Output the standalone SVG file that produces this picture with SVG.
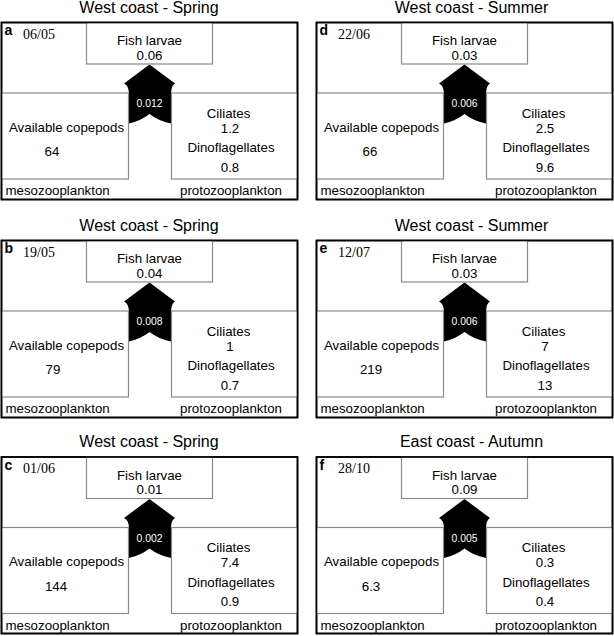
<svg xmlns="http://www.w3.org/2000/svg" xmlns:xlink="http://www.w3.org/1999/xlink" width="614" height="636" viewBox="0 0 614 636">
<style>
  text { font-family: "Liberation Sans", Arial, sans-serif; fill: #000; }
  .title { font-size: 16px; text-anchor: middle; }
  .letter { font-size: 14px; font-weight: bold; }
  .date { font-family: "Liberation Serif", "Times New Roman", serif; font-size: 14px; }
  .lbl { font-size: 13.3px; }
  .mid { text-anchor: middle; }
  .flow { font-size: 10.4px; fill: #fff; text-anchor: middle; }
  .frame { fill: none; stroke: #000; stroke-width: 1.6; }
  .box { fill: #fff; stroke: #8a8a8a; stroke-width: 1.2; }
  .arrow { fill: #000; stroke: none; }
</style>
<defs>
  <path id="flow-arrow" class="arrow" d="M148,42 L173.5,61 Q169.5,63 169.5,72 L169.5,101 Q157,98.5 148,91.5 Q139,98.5 127.5,101 L127.5,72 Q127.5,63 122.5,61 Z"/>
</defs>

<!-- Panel frames, titles and panel labels -->
<g id="panel-a" transform="translate(1.5,22.5)">
  <text class="title" x="147.5" y="-10">West coast - Spring</text>
  <rect class="frame" x="0" y="0" width="296" height="177"/>
  <text class="letter" x="3" y="12.5">a</text>
  <text class="date" x="21.5" y="16">06/05</text>
  <text class="lbl" x="4" y="172.5">mesozooplankton</text>
  <text class="lbl mid" x="229.5" y="172.5">protozooplankton</text>
</g>
<g id="panel-b" transform="translate(1.5,240.5)">
  <text class="title" x="147.5" y="-10">West coast - Spring</text>
  <rect class="frame" x="0" y="0" width="296" height="177"/>
  <text class="letter" x="3" y="12.5">b</text>
  <text class="date" x="21.5" y="16">19/05</text>
  <text class="lbl" x="4" y="172.5">mesozooplankton</text>
  <text class="lbl mid" x="229.5" y="172.5">protozooplankton</text>
</g>
<g id="panel-c" transform="translate(1.5,457)">
  <text class="title" x="147.5" y="-10">West coast - Spring</text>
  <rect class="frame" x="0" y="0" width="296" height="176.5"/>
  <text class="letter" x="3" y="12.5">c</text>
  <text class="date" x="21.5" y="16">01/06</text>
  <text class="lbl" x="4" y="172.5">mesozooplankton</text>
  <text class="lbl mid" x="229.5" y="172.5">protozooplankton</text>
</g>
<g id="panel-d" transform="translate(316.5,22.5)">
  <text class="title" x="155" y="-10">West coast - Summer</text>
  <rect class="frame" x="0" y="0" width="296" height="177"/>
  <text class="letter" x="3" y="12.5">d</text>
  <text class="date" x="21.5" y="16">22/06</text>
  <text class="lbl" x="4" y="172.5">mesozooplankton</text>
  <text class="lbl mid" x="229.5" y="172.5">protozooplankton</text>
</g>
<g id="panel-e" transform="translate(316.5,240.5)">
  <text class="title" x="155" y="-10">West coast - Summer</text>
  <rect class="frame" x="0" y="0" width="296" height="177"/>
  <text class="letter" x="3" y="12.5">e</text>
  <text class="date" x="21.5" y="16">12/07</text>
  <text class="lbl" x="4" y="172.5">mesozooplankton</text>
  <text class="lbl mid" x="229.5" y="172.5">protozooplankton</text>
</g>
<g id="panel-f" transform="translate(316.5,457)">
  <text class="title" x="155" y="-10">East coast - Autumn</text>
  <rect class="frame" x="0" y="0" width="296" height="176.5"/>
  <text class="letter" x="3" y="12.5">f</text>
  <text class="date" x="21.5" y="16">28/10</text>
  <text class="lbl" x="4" y="172.5">mesozooplankton</text>
  <text class="lbl mid" x="229.5" y="172.5">protozooplankton</text>
</g>

<!-- Connectors: flow arrows -->
<g id="connectors">
  <g id="flow-a" transform="translate(1.5,22.5)"><use xlink:href="#flow-arrow" href="#flow-arrow"/><text class="flow" x="148" y="84.5">0.012</text></g>
  <g id="flow-b" transform="translate(1.5,240.5)"><use xlink:href="#flow-arrow" href="#flow-arrow"/><text class="flow" x="148" y="84.5">0.008</text></g>
  <g id="flow-c" transform="translate(1.5,457)"><use xlink:href="#flow-arrow" href="#flow-arrow"/><text class="flow" x="148" y="84.5">0.002</text></g>
  <g id="flow-d" transform="translate(316.5,22.5)"><use xlink:href="#flow-arrow" href="#flow-arrow"/><text class="flow" x="148" y="84.5">0.006</text></g>
  <g id="flow-e" transform="translate(316.5,240.5)"><use xlink:href="#flow-arrow" href="#flow-arrow"/><text class="flow" x="148" y="84.5">0.006</text></g>
  <g id="flow-f" transform="translate(316.5,457)"><use xlink:href="#flow-arrow" href="#flow-arrow"/><text class="flow" x="148" y="84.5">0.005</text></g>
</g>

<!-- Nodes -->
<g transform="translate(1.5,22.5)">
  <g id="a-fish"><rect class="box" x="85" y="0" width="126" height="41.5"/><text class="lbl mid" x="148" y="22.5">Fish larvae</text><text class="lbl mid" x="148" y="37">0.06</text></g>
  <g id="a-copepods"><rect class="box" x="0" y="70.5" width="127" height="86"/><text class="lbl mid" x="65" y="109">Available copepods</text><text class="lbl mid" x="50.5" y="133.5">64</text></g>
  <g id="a-protozoo"><rect class="box" x="170" y="70.5" width="126" height="86"/><text class="lbl mid" x="227" y="95">Ciliates</text><text class="lbl mid" x="228.5" y="110">1.2</text><text class="lbl mid" x="229.5" y="129.5">Dinoflagellates</text><text class="lbl mid" x="228.5" y="149">0.8</text></g>
</g>
<g transform="translate(1.5,240.5)">
  <g id="b-fish"><rect class="box" x="85" y="0" width="126" height="41.5"/><text class="lbl mid" x="148" y="22.5">Fish larvae</text><text class="lbl mid" x="148" y="37">0.04</text></g>
  <g id="b-copepods"><rect class="box" x="0" y="70.5" width="127" height="86"/><text class="lbl mid" x="65" y="109">Available copepods</text><text class="lbl mid" x="51.5" y="133.5">79</text></g>
  <g id="b-protozoo"><rect class="box" x="170" y="70.5" width="126" height="86"/><text class="lbl mid" x="227" y="95">Ciliates</text><text class="lbl mid" x="228.5" y="110">1</text><text class="lbl mid" x="229.5" y="129.5">Dinoflagellates</text><text class="lbl mid" x="228.5" y="149">0.7</text></g>
</g>
<g transform="translate(1.5,457)">
  <g id="c-fish"><rect class="box" x="85" y="0" width="126" height="41.5"/><text class="lbl mid" x="148" y="22.5">Fish larvae</text><text class="lbl mid" x="148" y="37">0.01</text></g>
  <g id="c-copepods"><rect class="box" x="0" y="70.5" width="127" height="86"/><text class="lbl mid" x="65" y="109">Available copepods</text><text class="lbl mid" x="54.5" y="133.5">144</text></g>
  <g id="c-protozoo"><rect class="box" x="170" y="70.5" width="126" height="86"/><text class="lbl mid" x="227" y="95">Ciliates</text><text class="lbl mid" x="228.5" y="110">7.4</text><text class="lbl mid" x="229.5" y="129.5">Dinoflagellates</text><text class="lbl mid" x="228.5" y="149">0.9</text></g>
</g>
<g transform="translate(316.5,22.5)">
  <g id="d-fish"><rect class="box" x="85" y="0" width="126" height="41.5"/><text class="lbl mid" x="148" y="22.5">Fish larvae</text><text class="lbl mid" x="148" y="37">0.03</text></g>
  <g id="d-copepods"><rect class="box" x="0" y="70.5" width="127" height="86"/><text class="lbl mid" x="65" y="109">Available copepods</text><text class="lbl mid" x="53.5" y="133.5">66</text></g>
  <g id="d-protozoo"><rect class="box" x="170" y="70.5" width="126" height="86"/><text class="lbl mid" x="227" y="95">Ciliates</text><text class="lbl mid" x="228.5" y="110">2.5</text><text class="lbl mid" x="229.5" y="129.5">Dinoflagellates</text><text class="lbl mid" x="228.5" y="149">9.6</text></g>
</g>
<g transform="translate(316.5,240.5)">
  <g id="e-fish"><rect class="box" x="85" y="0" width="126" height="41.5"/><text class="lbl mid" x="148" y="22.5">Fish larvae</text><text class="lbl mid" x="148" y="37">0.03</text></g>
  <g id="e-copepods"><rect class="box" x="0" y="70.5" width="127" height="86"/><text class="lbl mid" x="65" y="109">Available copepods</text><text class="lbl mid" x="54.5" y="133.5">219</text></g>
  <g id="e-protozoo"><rect class="box" x="170" y="70.5" width="126" height="86"/><text class="lbl mid" x="227" y="95">Ciliates</text><text class="lbl mid" x="228.5" y="110">7</text><text class="lbl mid" x="229.5" y="129.5">Dinoflagellates</text><text class="lbl mid" x="228.5" y="149">13</text></g>
</g>
<g transform="translate(316.5,457)">
  <g id="f-fish"><rect class="box" x="85" y="0" width="126" height="41.5"/><text class="lbl mid" x="148" y="22.5">Fish larvae</text><text class="lbl mid" x="148" y="37">0.09</text></g>
  <g id="f-copepods"><rect class="box" x="0" y="70.5" width="127" height="86"/><text class="lbl mid" x="65" y="109">Available copepods</text><text class="lbl mid" x="54.5" y="133.5">6.3</text></g>
  <g id="f-protozoo"><rect class="box" x="170" y="70.5" width="126" height="86"/><text class="lbl mid" x="227" y="95">Ciliates</text><text class="lbl mid" x="228.5" y="110">0.3</text><text class="lbl mid" x="229.5" y="129.5">Dinoflagellates</text><text class="lbl mid" x="228.5" y="149">0.4</text></g>
</g>

<!-- Re-stroke frames on top of node boxes -->
<g id="frame-overlay" class="frame">
  <rect x="1.5" y="22.5" width="296" height="177"/>
  <rect x="1.5" y="240.5" width="296" height="177"/>
  <rect x="1.5" y="457" width="296" height="176.5"/>
  <rect x="316.5" y="22.5" width="296" height="177"/>
  <rect x="316.5" y="240.5" width="296" height="177"/>
  <rect x="316.5" y="457" width="296" height="176.5"/>
</g>
</svg>
